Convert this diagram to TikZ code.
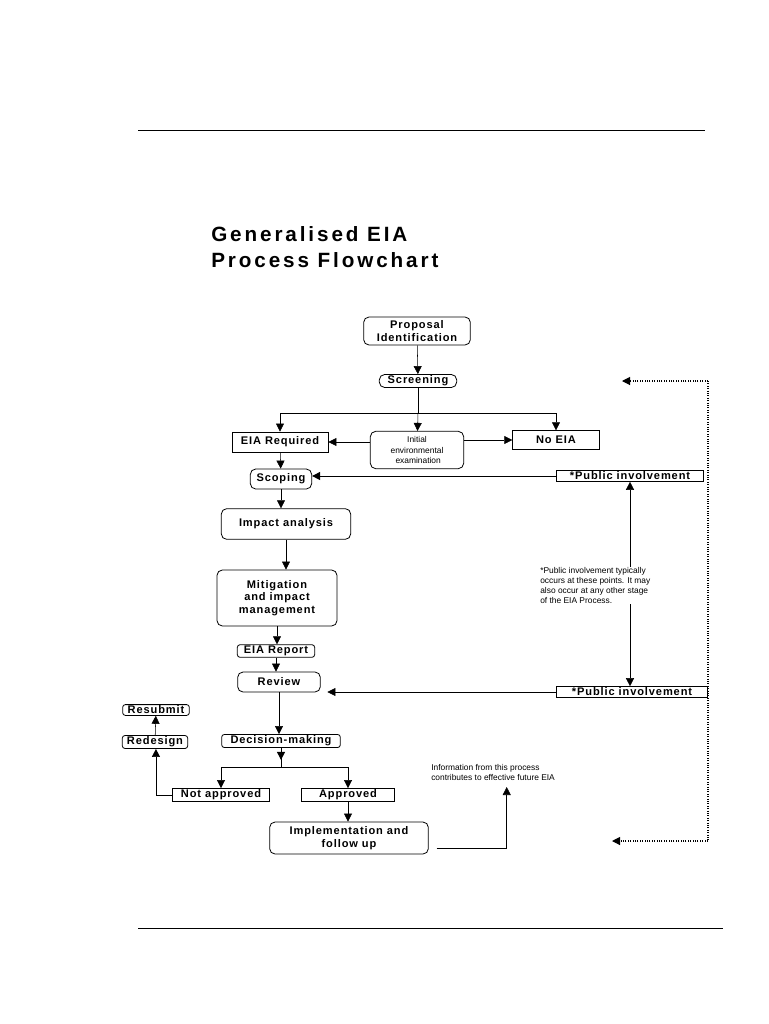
\documentclass[tikz,border=0pt]{standalone}
\usepackage{fontspec}
\setmainfont{Liberation Sans}
\newfontfamily\spaced[LetterSpace=8]{Liberation Sans}
\newfontfamily\titlefont[LetterSpace=14]{Liberation Sans}
\usetikzlibrary{arrows.meta,positioning}

\begin{document}
\begin{tikzpicture}[x=0.75pt,y=-0.75pt,
    box/.style={draw,semithick,font=\spaced\bfseries\fontsize{8.3}{9.5}\selectfont,
      inner sep=1pt,align=center},
    rbox/.style={box,rounded corners=4pt},
    note/.style={font=\fontsize{6.3}{7.6}\selectfont,align=left,inner sep=0pt},
    arr/.style={-{Triangle[length=6pt,width=6pt]}},
    dot/.style={densely dotted,thick},
    rule/.style={line width=0.6pt}]
  \useasboundingbox (0,0) rectangle (768,1024);
  % page rules
  \draw[rule] (138,130) -- (705,130);
  \draw[rule] (138,928) -- (723,928);
  % title
  \node[anchor=north west,align=left,inner sep=0pt,
    font=\titlefont\bfseries\fontsize{15.5}{20}\selectfont] (title) at (211,226)
    {Generalised EIA\\Process Flowchart};

  % boxes
  \node[rbox,minimum width=80pt,minimum height=21pt] (prop) at (417,331) {Proposal\\Identification};
  \node[rbox,minimum width=58pt] (scr) at (418,381) {Screening};
  \node[box,minimum width=72pt,minimum height=15pt] (req) at (280,442) {EIA Required};
  \node[rbox,font=\fontsize{6.3}{7.6}\selectfont,minimum width=70pt,minimum height=28pt] (iee) at (417,450)
    {Initial\\environmental\\\ examination};
  \node[box,minimum width=65pt,minimum height=14pt] (noeia) at (556,440) {No EIA};
  \node[rbox,minimum width=46pt,minimum height=15pt] (scop) at (281,479) {Scoping};
  \node[box,fill=white,minimum width=110pt] (pub1) at (630,476) {*Public involvement};
  \node[rbox,minimum width=97pt,minimum height=23pt] (imp) at (286,524) {Impact analysis};
  \node[rbox,minimum width=90pt,minimum height=42pt] (mit) at (277,598) {Mitigation\\and impact\\management};
  \node[box,rounded corners=2pt,minimum width=58pt] (rep) at (276,651) {EIA Report};
  \node[rbox,minimum width=62pt,minimum height=15pt] (rev) at (279,682) {Review};
  \node[box,fill=white,minimum width=113pt] (pub2) at (632,692) {*Public involvement};
  \node[box,rounded corners=2pt,minimum width=50pt] (resub) at (156,710) {Resubmit};
  \node[box,rounded corners=2pt,minimum width=49pt] (redes) at (155,742) {Redesign};
  \node[box,rounded corners=2pt,minimum width=89pt] (dec) at (281,741) {Decision-making};
  \node[box,minimum width=73pt] (notap) at (221,795) {Not approved};
  \node[box,minimum width=70pt] (appr) at (348,795) {Approved};
  \node[rbox,minimum width=119pt,minimum height=24pt] (impl) at (349,838) {Implementation and\\follow up};

  % notes
  \node[note,anchor=north west] (pinote) at (540,567)
    {*Public involvement typically\\occurs at these points. It may\\also occur at any other stage\\of the EIA Process.};
  \node[note,anchor=north west] (info) at (431,764)
    {Information from this process\\contributes to effective future EIA};

  % main flow
  \draw[arr] (prop) -- (scr);
  \draw (scr) -- (scr |- 0,413) coordinate (b1);
  \draw[arr] (b1) -- (iee);
  \draw[arr] (b1) -| (req.north);
  \draw[arr] (b1) -| (noeia.north);
  \draw[arr] (iee.west |- req) -- (req);
  \draw[arr] (iee.east |- noeia) -- (noeia);
  \draw[arr] (req) -- (scop);
  \draw[arr] (scop) -- (scop |- imp.north);
  \draw[arr] (imp) -- (imp |- mit.north);
  \draw[arr] (mit) -- (mit |- rep.north);
  \draw[arr] (rep) -- (rep |- rev.north);
  \draw[arr] (rev) -- (rev |- dec.north);
  \draw (dec) -- (dec |- 0,767) coordinate (b2);
  \draw[arr] (dec.south) -- ++(0,12);
  \draw[arr] (b2) -| (notap.north);
  \draw[arr] (b2) -| (appr.north);
  \draw[arr] (appr) -- (appr |- impl.north);
  \draw[arr] (notap.west) -- ++(-16,0) coordinate (b3) -- (b3 |- redes.south);
  \draw[arr] (redes) -- (resub);
  \draw[arr] (impl.east) ++(8,10) -- ++(70,0) coordinate (b4) -- (b4 |- 0,787);

  % public involvement
  \draw[arr] (pub1.west) -- (scop.east |- pub1);
  \draw[arr] (pub2) -- ([xshift=5pt]rev.east |- pub2);
  \draw[arr] (pub1 |- pinote.north) -- (pub1.south);
  \draw[arr] (pub1 |- pinote.south) -- (pub1 |- pub2.north);

  % feedback loop
  \coordinate (fb1) at (708,381);
  \coordinate (fb2) at (708,841);
  \draw[dot] (fb1) -- (fb2);
  \draw[dot,arr] (fb1) -- (622,381);
  \draw[dot,arr] (fb2) -- (612,841);
\end{tikzpicture}
\end{document}
